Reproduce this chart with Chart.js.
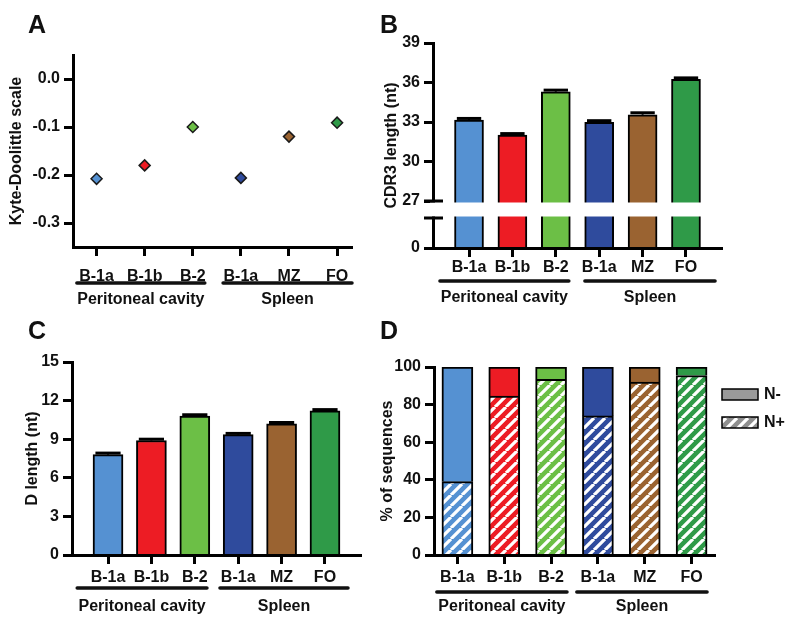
<!DOCTYPE html>
<html>
<head>
<meta charset="utf-8">
<script src="https://cdn.jsdelivr.net/npm/chart.js@4.4.1/dist/chart.umd.min.js"></script>
<style>
  html, body { margin: 0; padding: 0; background: #fff; }
  #fig { position: relative; width: 798px; height: 627px; overflow: hidden; }
  #fig canvas { position: absolute; left: 0; top: 0; }
</style>
</head>
<body>
<div id="fig">
  <canvas id="chartA" width="798" height="627"></canvas>
  <canvas id="chartB" width="798" height="627"></canvas>
  <canvas id="chartC" width="798" height="627"></canvas>
  <canvas id="chartD" width="798" height="627"></canvas>
</div>
<script>
// ── data ──────────────────────────────────────────────────────────
const categories = ["B-1a", "B-1b", "B-2", "B-1a", "MZ", "FO"];
const groupNames = ["Peritoneal cavity", "Spleen"];
const groupSpans = [[0, 2], [3, 5]];
const cellColors = ["#5591d2", "#ed1c24", "#6cbf46", "#2f4b9d", "#9a6331", "#2f9a48"];

const hydroA  = [-0.208, -0.180, -0.100, -0.206, -0.120, -0.091];
const yTicksA = [-0.3, -0.2, -0.1, 0.0];

const cdr3B    = [33.15, 32.0, 35.3, 32.97, 33.55, 36.25];
const cdr3ErrB = [0.12, 0.12, 0.12, 0.13, 0.15, 0.1];
const yTicksB  = [0, 27, 30, 33, 36, 39];

const dLenC    = [7.8, 8.9, 10.8, 9.35, 10.2, 11.2];
const dLenErrC = [0.12, 0.1, 0.1, 0.1, 0.1, 0.1];
const yTicksC  = [0, 3, 6, 9, 12, 15];

const nPlusD  = [39, 84.5, 93.5, 74, 92, 95.5];
const nMinusD = [61, 15.5, 6.5, 26, 8, 4.5];
const yTicksD = [0, 20, 40, 60, 80, 100];

// broken axis of panel B: low stub ends at 3, upper part starts at 27
const breakB = { lowTop: 3, highBottom: 27, lowPx: 30, gapPx: 17 };

const FONT = "'Liberation Sans', Arial, Helvetica, sans-serif";
Chart.defaults.font.family = FONT;
Chart.defaults.font.size = 16;
Chart.defaults.font.weight = "bold";
Chart.defaults.color = "#111";

// ── linear scale with a break (panel B) ─────────────────────────
class BrokenLinearScale extends Chart.LinearScale {
  _toDecimal(v) {
    const len = Math.abs(this._length) || 1;
    const lowF = breakB.lowPx / len, gapF = breakB.gapPx / len;
    if (v <= breakB.lowTop) return (v - this.min) / (breakB.lowTop - this.min) * lowF;
    if (v < breakB.highBottom)
      return lowF + (v - breakB.lowTop) / (breakB.highBottom - breakB.lowTop) * gapF;
    return lowF + gapF + (v - breakB.highBottom) / (this.max - breakB.highBottom) * (1 - lowF - gapF);
  }
  getPixelForValue(v) {
    if (v === null || v === undefined || isNaN(v)) return NaN;
    return this.getPixelForDecimal(this._toDecimal(v));
  }
  getValueForPixel(p) {
    const d = this.getDecimalForPixel(p);
    const len = Math.abs(this._length) || 1;
    const lowF = breakB.lowPx / len, gapF = breakB.gapPx / len;
    if (d <= lowF) return this.min + d / lowF * (breakB.lowTop - this.min);
    if (d < lowF + gapF) return breakB.lowTop + (d - lowF) / gapF * (breakB.highBottom - breakB.lowTop);
    return breakB.highBottom + (d - lowF - gapF) / (1 - lowF - gapF) * (this.max - breakB.highBottom);
  }
}
BrokenLinearScale.id = "brokenLinear";
BrokenLinearScale.defaults = Chart.LinearScale.defaults;
Chart.register(BrokenLinearScale);

// ── small drawing plugins ───────────────────────────────────────
const panelLetter = {
  id: "panelLetter",
  afterDraw(chart, args, o) {
    if (!o.text) return;
    const ctx = chart.ctx;
    ctx.save();
    ctx.fillStyle = "#111";
    ctx.font = "bold 25px " + FONT;
    ctx.textBaseline = "alphabetic";
    ctx.fillText(o.text, o.x, o.y);
    ctx.restore();
  },
};

const groupLines = {
  id: "groupLines",
  afterDraw(chart, args, o) {
    if (!o.ext) return;
    const x = chart.scales.x, ctx = chart.ctx;
    const step = x.getPixelForValue(1) - x.getPixelForValue(0);
    ctx.save();
    ctx.strokeStyle = "#111";
    ctx.lineWidth = 3.5;
    ctx.lineCap = "round";
    ctx.fillStyle = "#111";
    ctx.font = "bold 16px " + FONT;
    ctx.textAlign = "center";
    ctx.textBaseline = "middle";
    groupSpans.forEach(([a, b], g) => {
      const x0 = x.getPixelForValue(a) + o.ext[g][0] * step;
      const x1 = x.getPixelForValue(b) + o.ext[g][1] * step;
      ctx.beginPath();
      ctx.moveTo(x0, o.lineY);
      ctx.lineTo(x1, o.lineY);
      ctx.stroke();
      ctx.fillText(groupNames[g], (x0 + x1) / 2, o.textY);
    });
    ctx.restore();
  },
};

const errorBars = {
  id: "errorBars",
  afterDatasetsDraw(chart, args, o) {
    if (!o.values) return;
    const meta = chart.getDatasetMeta(0), y = chart.scales.y, ctx = chart.ctx;
    const data = chart.data.datasets[0].data;
    ctx.save();
    ctx.strokeStyle = "#000";
    meta.data.forEach((bar, i) => {
      const top = y.getPixelForValue(data[i].y + o.values[i]);
      const half = bar.width * 0.42;
      ctx.lineWidth = 2;
      ctx.beginPath();
      ctx.moveTo(bar.x, bar.y);
      ctx.lineTo(bar.x, top);
      ctx.stroke();
      ctx.lineWidth = 3;
      ctx.beginPath();
      ctx.moveTo(bar.x - half, top);
      ctx.lineTo(bar.x + half, top);
      ctx.stroke();
    });
    ctx.restore();
  },
};

const axisBreak = {
  id: "axisBreak",
  afterDatasetsDraw(chart, args, o) {
    if (!o.enabled) return;
    const y = chart.scales.y, ca = chart.chartArea, ctx = chart.ctx;
    const yHi = y.getPixelForValue(breakB.highBottom);
    const yLo = y.getPixelForValue(breakB.lowTop);
    ctx.save();
    ctx.fillStyle = "#fff";
    ctx.fillRect(ca.left - 3, yHi + 1.5, ca.right - ca.left + 6, yLo - yHi - 3);
    ctx.strokeStyle = "#000";
    ctx.lineWidth = 3;
    ctx.beginPath();
    [yHi, yLo].forEach((p) => { ctx.moveTo(ca.left - 9, p); ctx.lineTo(ca.left + 10, p); });
    ctx.stroke();
    ctx.restore();
  },
};

const boxLegend = {
  id: "boxLegend",
  afterDraw(chart, args, o) {
    if (!o.enabled) return;
    const ctx = chart.ctx, ca = chart.chartArea;
    const sets = chart.data.datasets.slice().reverse();
    ctx.save();
    ctx.font = "bold 16px " + FONT;
    ctx.textBaseline = "middle";
    sets.forEach((ds, i) => {
      const x = ca.right + o.dx, y = ca.top + o.dy + i * o.gap;
      ctx.fillStyle = ds.legendFill;
      ctx.fillRect(x, y, 36, 11);
      ctx.strokeStyle = "#000";
      ctx.lineWidth = 1.5;
      ctx.strokeRect(x, y, 36, 11);
      ctx.fillStyle = "#111";
      ctx.fillText(ds.label, x + 42, y + 6);
    });
    ctx.restore();
  },
};

Chart.register(panelLetter, groupLines, errorBars, axisBreak, boxLegend);

// ── shared axis builders ────────────────────────────────────────
function xAxis(type, min, max, pad) {
  const ax = {
    type: type,
    offset: type === "category",
    afterFit: (s) => { s.height = 45; },
    grid: { display: true, drawOnChartArea: false, offset: false, tickLength: 9, tickWidth: 3, tickColor: "#000" },
    border: { display: true, width: 3, color: "#000", z: 1 },
    ticks: { autoSkip: false, maxRotation: 0, minRotation: 0, padding: pad, color: "#111",
             callback: (v, i) => categories[i] },
  };
  if (type === "linear") {
    ax.min = min;
    ax.max = max;
    ax.afterBuildTicks = (s) => { s.ticks = categories.map((_, i) => ({ value: i })); };
  }
  return ax;
}

function yAxis(type, min, max, ticks, fmt, title, width) {
  return {
    type: type,
    min: min,
    max: max,
    afterBuildTicks: (s) => { s.ticks = ticks.map((v) => ({ value: v })); },
    afterFit: (s) => { s.width = width; },
    grid: { display: true, drawOnChartArea: false, tickLength: 9, tickWidth: 3, tickColor: "#000" },
    border: { display: true, width: 3, color: "#000" },
    ticks: { padding: 4, color: "#111", callback: (v) => fmt(v) },
    title: { display: true, text: title, color: "#111", padding: { top: 7, bottom: 0 },
             font: { size: 16, weight: "bold" } },
  };
}

const base = { responsive: false, animation: false, events: [] };
const quiet = { legend: { display: false }, tooltip: { enabled: false } };

// ── A: hydrophobicity (diamonds) ───────────────────────────────
new Chart(document.getElementById("chartA"), {
  type: "scatter",
  data: {
    datasets: [{
      data: hydroA.map((v, i) => ({ x: i, y: v })),
      backgroundColor: cellColors,
      borderColor: "#1a1a1a",
      pointStyle: "rectRot",
      pointRadius: 5.5,
      pointBorderWidth: 1.5,
    }],
  },
  options: {
    ...base,
    layout: { padding: { left: 0, top: 55, right: 446, bottom: 335 } },
    plugins: {
      ...quiet,
      panelLetter: { text: "A", x: 28, y: 33 },
      groupLines: { lineY: 283, textY: 300, ext: [[-0.41, 0.25], [-0.37, 0.31]] },
    },
    scales: {
      x: xAxis("linear", -0.49, 5.31, 11),
      y: yAxis("linear", -0.35, 0.05, yTicksA, (v) => v.toFixed(1), "Kyte-Doolittle scale", 73),
    },
  },
});

// ── B: CDR3 length (broken axis) ───────────────────────────────
new Chart(document.getElementById("chartB"), {
  type: "bar",
  data: {
    datasets: [{
      data: cdr3B.map((v, i) => ({ x: i, y: v })),
      backgroundColor: cellColors,
      borderColor: "#000",
      borderWidth: 2,
      barThickness: 29,
    }],
  },
  options: {
    ...base,
    layout: { padding: { left: 375, top: 43, right: 76, bottom: 334 } },
    plugins: {
      ...quiet,
      panelLetter: { text: "B", x: 380, y: 33 },
      groupLines: { lineY: 281, textY: 298, ext: [[-0.67, 0.3], [-0.33, 0.67]] },
      errorBars: { values: cdr3ErrB },
      axisBreak: { enabled: true },
    },
    scales: {
      x: xAxis("linear", -0.83, 5.83, 1),
      y: yAxis("brokenLinear", 0, 39, yTicksB, (v) => String(v), "CDR3 length (nt)", 58),
    },
  },
});

// ── C: D length ─────────────────────────────────────────────────
new Chart(document.getElementById("chartC"), {
  type: "bar",
  data: {
    datasets: [{
      data: dLenC.map((v, i) => ({ x: i, y: v })),
      backgroundColor: cellColors,
      borderColor: "#000",
      borderWidth: 2,
      barThickness: 30,
    }],
  },
  options: {
    ...base,
    layout: { padding: { left: 16, top: 362, right: 437, bottom: 27 } },
    plugins: {
      ...quiet,
      panelLetter: { text: "C", x: 28, y: 339 },
      groupLines: { lineY: 588, textY: 607, ext: [[-0.71, 0.28], [-0.42, 0.53]] },
      errorBars: { values: dLenErrC },
    },
    scales: {
      x: xAxis("linear", -0.83, 5.83, 4),
      y: yAxis("linear", 0, 15, yTicksC, (v) => String(v), "D length (nt)", 56),
    },
  },
});

// ── D: N+ / N- composition (stacked, hatched) ──────────────────
const ctxD = document.getElementById("chartD").getContext("2d");
function hatch(color) {
  const s = 11;
  const c = document.createElement("canvas");
  c.width = s; c.height = s;
  const g = c.getContext("2d");
  g.fillStyle = color;
  g.fillRect(0, 0, s, s);
  g.strokeStyle = "#fff";
  g.lineWidth = 3.2;
  g.beginPath();
  [-s, 0, s].forEach((o) => { g.moveTo(o, s); g.lineTo(o + s, 0); });
  g.stroke();
  return ctxD.createPattern(c, "repeat");
}

new Chart(ctxD, {
  type: "bar",
  data: {
    labels: categories,
    datasets: [
      { label: "N+", data: nPlusD, backgroundColor: cellColors.map(hatch), legendFill: hatch("#8f8f8f"),
        borderColor: "#000", borderWidth: 2, barThickness: 31 },
      { label: "N-", data: nMinusD, backgroundColor: cellColors, legendFill: "#9a9a9a",
        borderColor: "#000", borderWidth: 2, barThickness: 31 },
    ],
  },
  options: {
    ...base,
    layout: { padding: { left: 371, top: 367, right: 83, bottom: 27 } },
    plugins: {
      ...quiet,
      panelLetter: { text: "D", x: 380, y: 339 },
      groupLines: { lineY: 592, textY: 607, ext: [[-0.44, 0.34], [-0.45, 0.33]] },
      boxLegend: { enabled: true, dx: 7, dy: 22, gap: 28 },
    },
    scales: {
      x: { ...xAxis("category", 0, 0, 4), stacked: true },
      y: { ...yAxis("linear", 0, 100, yTicksD, (v) => String(v), "% of sequences", 63), stacked: true },
    },
  },
});
</script>
</body>
</html>
